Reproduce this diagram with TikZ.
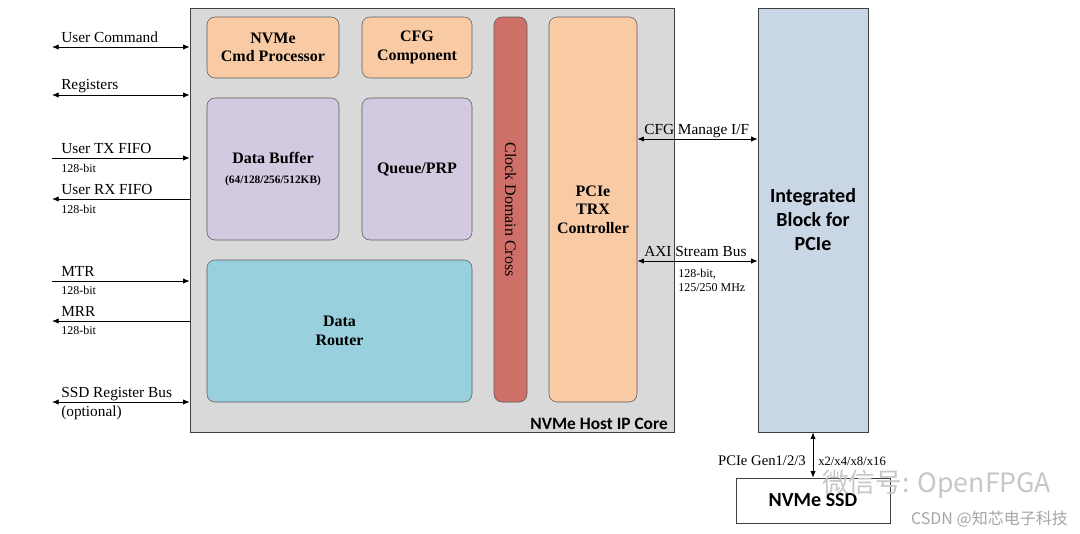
\documentclass[tikz,border=0pt]{standalone}
\usepackage{fontspec}
\setmainfont{Liberation Serif}
\newfontfamily\cali{Carlito}
\newfontfamily\cjk{Noto Sans CJK SC}
\usetikzlibrary{arrows.meta}
\definecolor{coregray}{HTML}{D9D9D9}
\definecolor{peach}{HTML}{F9CBA5}
\definecolor{lilac}{HTML}{D3C9E0}
\definecolor{teal}{HTML}{98D0DE}
\definecolor{brick}{HTML}{CF7068}
\definecolor{pcieblue}{HTML}{C9D6E5}
\begin{document}
\begin{tikzpicture}[x=0.75pt,y=-0.75pt,font=\fontsize{11.5}{13}\selectfont,
  blk/.style={draw=black!65,rounded corners=6pt,align=center,inner sep=0pt,font=\fontsize{12}{14}\selectfont\bfseries},
  bus/.style={line width=0.6pt},
  tip/.style={-{Latex[length=5pt,width=4pt]}},
  tips/.style={{Latex[length=5pt,width=4pt]}-{Latex[length=5pt,width=4pt]}},
  sig/.style={anchor=base west,inner sep=0pt},
  wide/.style={anchor=base west,inner sep=0pt,font=\fontsize{9}{11}\selectfont}]
\useasboundingbox (0,0) rectangle (1080,533);
% core and PCIe block
\node[draw=black!75,fill=coregray,minimum width=363pt,minimum height=318pt] (core) at (432,220) {};
\node[draw=black!75,fill=pcieblue,minimum width=82.5pt,minimum height=318pt,align=center,font=\cali\fontsize{15}{18}\selectfont\bfseries] (ib) at (813,220) {Integrated\\Block for\\PCIe};
\node[draw=black!75,minimum width=115.5pt,minimum height=33.75pt,font=\cali\fontsize{15}{18}\selectfont\bfseries] (ssd) at (813,500.5) {NVMe SSD};
\node[anchor=base east,inner sep=0pt,font=\cali\fontsize{13}{15}\selectfont\bfseries] (corename) at (668,429) {NVMe Host IP Core};
% inner blocks
\node[blk,fill=peach,minimum width=99pt,minimum height=45.75pt] (cmd) at (273,47.5) {NVMe\\Cmd Processor};
\node[blk,fill=peach,minimum width=82.5pt,minimum height=45.75pt] (cfg) at (417,47.5) {CFG\\Component};
\node[blk,fill=lilac,minimum width=99pt,minimum height=106.5pt] (buf) at (273,169) {Data Buffer\\[1pt]{\fontsize{8.5}{10}\selectfont(64/128/256/512KB)}};
\node[blk,fill=lilac,minimum width=82.5pt,minimum height=106.5pt] (queue) at (417,169) {Queue/PRP};
\node[blk,fill=teal,minimum width=198.75pt,minimum height=106.5pt] (router) at (339.5,331) {Data\\Router};
\node[blk,fill=brick,minimum width=288.75pt,minimum height=24.75pt,rotate=-90,font=\fontsize{12}{14}\selectfont] (cdc) at (510.5,209.5) {Clock Domain Cross};
\node[blk,fill=peach,minimum width=66pt,minimum height=288.75pt] (trx) at (593,209.5) {PCIe\\TRX\\Controller};
% user side
\coordinate (ucmd) at (52,47);
\coordinate (ureg) at (52,95);
\coordinate (utx) at (52,158);
\coordinate (urx) at (52,199);
\coordinate (umtr) at (52,281);
\coordinate (umrr) at (52,321);
\coordinate (ussd) at (52,402);
\draw[bus,tips] (ucmd) -- (ucmd -| core.west);
\draw[bus,tips] (ureg) -- (ureg -| core.west);
\draw[bus,tip] (utx) -- (utx -| core.west);
\draw[bus,tip] (urx -| core.west) -- (urx);
\draw[bus,tip] (umtr) -- (umtr -| core.west);
\draw[bus,tip] (umrr -| core.west) -- (umrr);
\draw[bus,tips] (ussd) -- (ussd -| core.west);
\node[sig] (lcmd) at (61,42) {User Command};
\node[sig] (lreg) at (61,89) {Registers};
\node[sig] (ltx) at (61,153) {User TX FIFO};
\node[wide] (wtx) at (61,172) {128-bit};
\node[sig] (lrx) at (61,194) {User RX FIFO};
\node[wide] (wrx) at (61,213) {128-bit};
\node[sig] (lmtr) at (61,276) {MTR};
\node[wide] (wmtr) at (61,294) {128-bit};
\node[sig] (lmrr) at (61,316) {MRR};
\node[wide] (wmrr) at (61,334) {128-bit};
\node[sig] (lssd) at (61,397) {SSD Register Bus};
\node[sig] (opt) at (61,416) {(optional)};
% PCIe side
\coordinate (ycfg) at (700,139);
\coordinate (yaxi) at (700,261);
\draw[bus,tips] (trx.east |- ycfg) -- (ib.west |- ycfg);
\draw[bus,tips] (trx.east |- yaxi) -- (ib.west |- yaxi);
\draw[bus,tips] (ib.south) -- (ssd.north);
\node[sig] (lcfg) at (644,134) {CFG Manage I/F};
\node[sig] (laxi) at (644,256) {AXI Stream Bus};
\node[wide] (waxi) at (678,277) {128-bit,};
\node[wide] (fclk) at (678,291) {125/250 MHz};
\node[anchor=base east,inner sep=0pt,font=\fontsize{11}{13}\selectfont] (gen) at (806,465) {PCIe Gen1/2/3};
\node[wide,font=\fontsize{9.5}{11}\selectfont] (lanes) at (818,465) {x2/x4/x8/x16};
% watermark
\node[anchor=base west,inner sep=0pt,text=black!22,font=\cjk\fontsize{20}{24}\selectfont] (wm) at (822,492) {微信号: OpenFPGA};
\node[anchor=base east,inner sep=0pt,text=black!35,font=\cjk\fontsize{12}{14}\selectfont] (csdn) at (1068,524) {CSDN @知芯电子科技};
\end{tikzpicture}
\end{document}
